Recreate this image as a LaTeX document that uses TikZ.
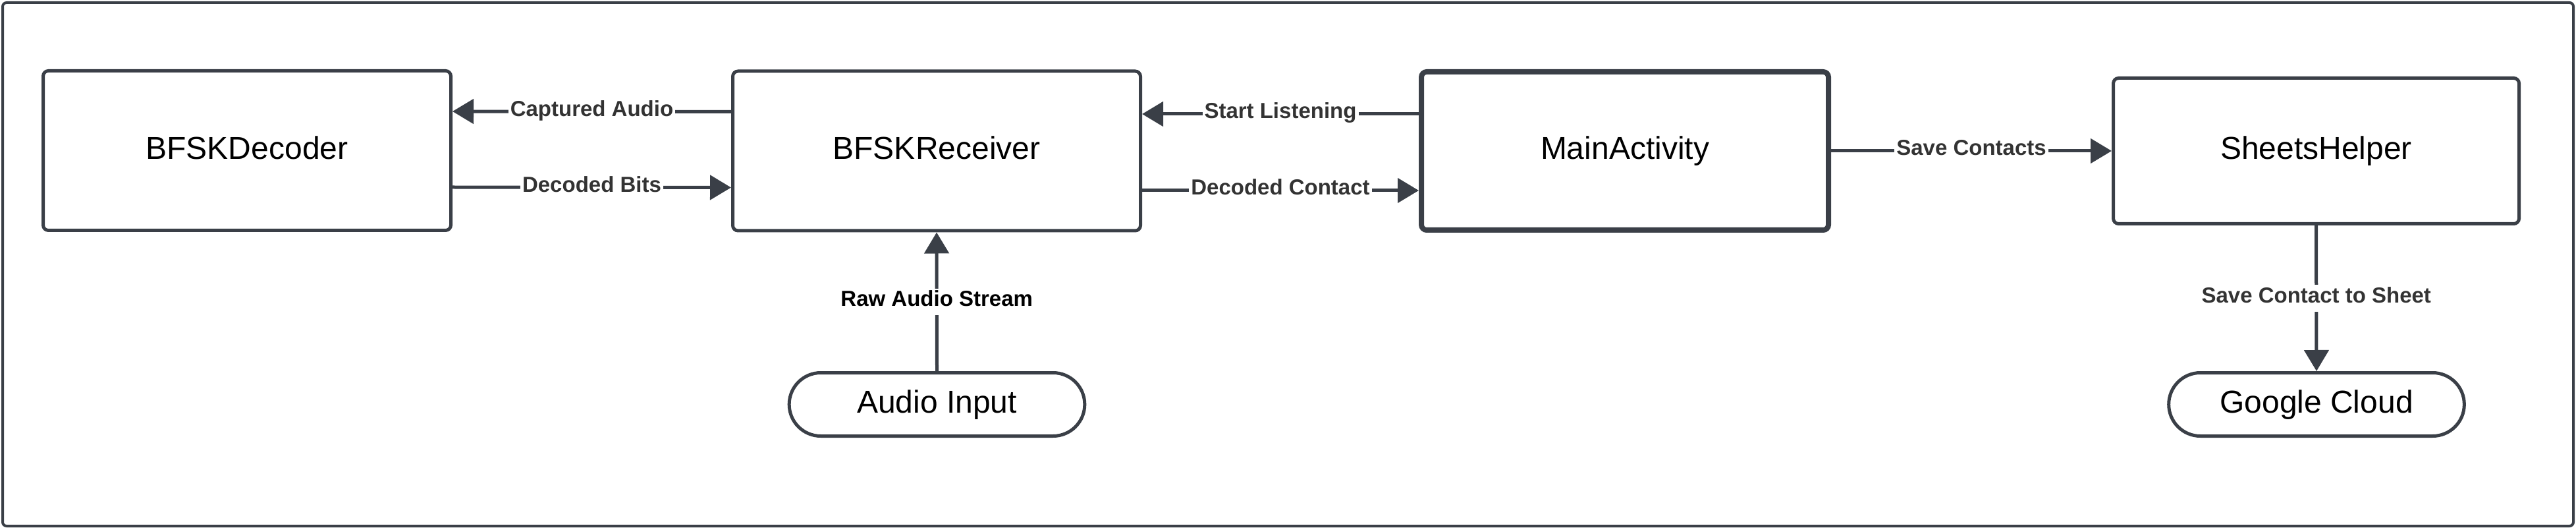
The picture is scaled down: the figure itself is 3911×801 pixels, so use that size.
\documentclass[tikz,border=0pt]{standalone}
\usepackage{fontspec}
\setmainfont{Liberation Sans}
\usetikzlibrary{shapes, arrows.meta, positioning, calc}
\definecolor{edgegray}{HTML}{3A3F47}
\definecolor{labelgray}{HTML}{333333}

\begin{document}
\begin{tikzpicture}[x=0.5pt, y=-0.5pt,
		block/.style={draw=edgegray, line width=2.5pt, rounded corners=4pt, minimum width=309.5pt, minimum height=121pt, align=center, text height=18pt, text depth=5.3pt, font=\fontsize{24}{28}\selectfont},
		term/.style={draw=edgegray, line width=2.5pt, rounded rectangle, minimum width=231pt, minimum height=48pt, align=center, text height=18pt, text depth=5.3pt, font=\fontsize{24}{28}\selectfont},
		flow/.style={draw=edgegray, line width=2.5pt, -{Triangle[length=16pt, width=18.5pt]}},
		lbl/.style={fill=white, inner sep=1.5pt, text=labelgray, text height=12pt, text depth=5.2pt, font=\fontsize{16.5}{18}\selectfont\bfseries}]
		\useasboundingbox (0, 0) rectangle (3911, 801);
		\draw[edgegray, line width=2pt, rounded corners=3pt] (4, 4) rectangle (3907, 798);

		\coordinate (dec)   at (375, 228.5);
		\coordinate (rec)   at (1422, 229);
		\coordinate (main)  at (2467, 229);
		\coordinate (sheet) at (3516.5, 229);
		\coordinate (audio) at (1422.5, 613.5);
		\coordinate (cloud) at (3517, 613.5);

		\node[block] (DEC) at (dec) {BFSKDecoder};
		\node[block] (REC) at (rec) {BFSKReceiver};
		\node[block, line width=4pt, minimum width=309pt, minimum height=120pt] (MAIN) at (main) {MainActivity};
		\node[block, minimum width=308pt, minimum height=110.5pt] (SHE) at (sheet) {SheetsHelper};
		\node[term] (AUD) at (audio) {Audio Input};
		\node[term] (GC) at (cloud) {Google Cloud};

		\draw[flow] ($(REC.west)+(0,-59.5)$) -- node[lbl]{Captured Audio} ($(DEC.east)+(0,-59.5)$);
		\draw[flow] ($(DEC.east)+(0,55.5)$) -- node[lbl]{Decoded Bits} ($(REC.west)+(0,55.5)$);
		\draw[flow] ($(MAIN.west)+(0,-56)$) -- node[lbl]{Start Listening} ($(REC.east)+(0,-56)$);
		\draw[flow] ($(REC.east)+(0,60)$) -- node[lbl]{Decoded Contact} ($(MAIN.west)+(0,60)$);
		\draw[flow] (MAIN.east) -- node[lbl]{Save Contacts} (SHE.west);
		\draw[flow] (AUD.north) -- node[lbl, text=black]{Raw Audio Stream} (REC.south);
		\draw[flow] (SHE.south) -- node[lbl]{Save Contact to Sheet} (GC.north);
	\end{tikzpicture}
\end{document}
